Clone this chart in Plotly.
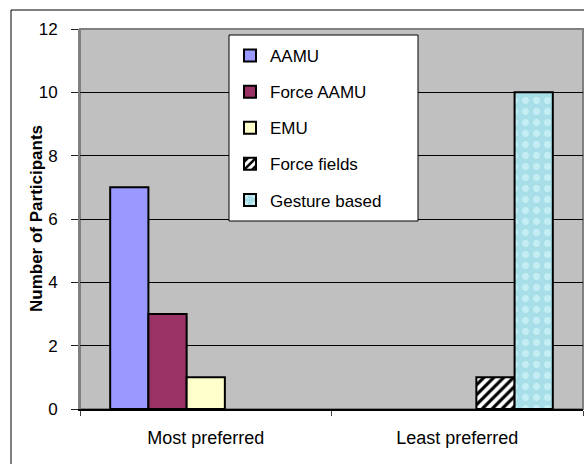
import plotly.graph_objects as go

# Survey results: how many participants ranked each technique most / least preferred
categories = ["Most preferred", "Least preferred"]
aamu = [7, 0]
force_aamu = [3, 0]
emu = [1, 0]
force_fields = [0, 1]
gesture_based = [0, 10]

y_ticks = [0, 2, 4, 6, 8, 10, 12]

FONT = "Liberation Sans, Arial, sans-serif"

series = [
    ("AAMU", aamu, dict(color="#9999FF")),
    ("Force AAMU", force_aamu, dict(color="#993366")),
    ("EMU", emu, dict(color="#FFFFCC")),
    ("Force fields", force_fields,
     dict(color="white",
          pattern=dict(shape="/", fgcolor="black", bgcolor="white",
                       size=7, solidity=0.45, fillmode="replace"))),
    ("Gesture based", gesture_based,
     dict(color="#ADE3EC",
          pattern=dict(shape=".", fgcolor="#C4EEF4", bgcolor="#A8DEE7",
                       size=11, solidity=0.3, fillmode="replace"))),
]

fig = go.Figure()
for name, values, marker in series:
    # a count of zero leaves an empty slot rather than an outline on the baseline
    shown = [v if v else None for v in values]
    fig.add_trace(go.Bar(
        name=name, x=categories, y=shown,
        marker=dict(line=dict(color="black", width=2), **marker),
        legendgroup=name,
    ))

# plot area is 80..583 px wide, 29..409 px high
def px_x(p):
    return (p - 80) / 503.0

def px_y(p):
    return (409 - p) / 380.0

shapes = [
    # outer chart frame (top and left edges fall inside the page)
    dict(type="line", xref="paper", yref="paper",
         x0=px_x(11), x1=px_x(600), y0=px_y(10), y1=px_y(10),
         line=dict(color="black", width=1), layer="below"),
    dict(type="line", xref="paper", yref="paper",
         x0=px_x(11), x1=px_x(11), y0=px_y(10), y1=px_y(480),
         line=dict(color="black", width=1), layer="below"),
    # plot area frame
    dict(type="rect", xref="paper", yref="paper",
         x0=0, x1=1, y0=0, y1=1,
         line=dict(color="#808080", width=2), fillcolor="rgba(0,0,0,0)",
         layer="between"),
    # legend box
    dict(type="rect", xref="paper", yref="paper",
         x0=px_x(229), x1=px_x(418), y0=px_y(221), y1=px_y(35),
         line=dict(color="black", width=1), fillcolor="white",
         layer="above"),
]

fig.update_layout(
    width=584, height=464,
    margin=dict(l=80, r=1, t=29, b=55),
    paper_bgcolor="white",
    plot_bgcolor="#C0C0C0",
    barmode="group",
    bargap=0.24,
    bargroupgap=0,
    font=dict(family=FONT, size=17, color="black"),
    showlegend=True,
    legend=dict(
        x=px_x(230), y=px_y(38), xanchor="left", yanchor="top",
        bgcolor="rgba(0,0,0,0)", borderwidth=0,
        traceorder="grouped", tracegroupgap=11,
        font=dict(family=FONT, size=17, color="black"),
    ),
    shapes=shapes,
    annotations=[
        dict(text="<b>Number of Participants</b>", textangle=-90,
             xref="paper", yref="paper", x=px_x(36), y=0.5,
             xanchor="center", yanchor="middle", showarrow=False,
             font=dict(family=FONT, size=17, color="black")),
    ],
    xaxis=dict(
        showgrid=False,
        showline=True, linecolor="black", linewidth=1.5,
        ticks="outside", tickson="boundaries", ticklen=5,
        tickcolor="#404040",
        ticklabelstandoff=12,
        tickfont=dict(family=FONT, size=18),
    ),
    yaxis=dict(
        range=[0, 12],
        tickvals=y_ticks,
        showgrid=True, gridcolor="black", gridwidth=1,
        zeroline=False,
        showline=True, linecolor="#808080", linewidth=2,
        ticks="outside", ticklen=7, tickcolor="#202020",
        ticklabelstandoff=10,
        tickfont=dict(family=FONT, size=17),
        automargin=False,
    ),
)

fig.write_html("out.html")
